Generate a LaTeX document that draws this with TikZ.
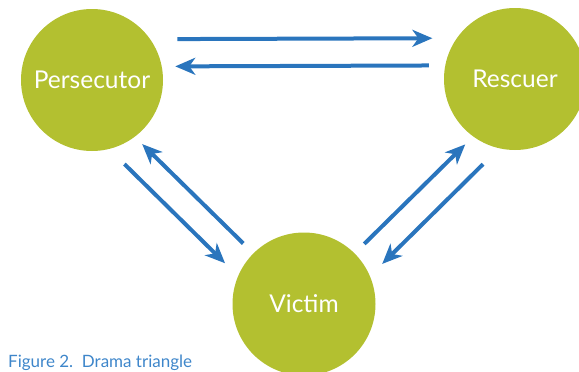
\documentclass[tikz,border=0pt]{standalone}
\usepackage{fontspec}
\setmainfont{Lato}
\usetikzlibrary{arrows.meta}
\definecolor{leafgreen}{RGB}{179,192,48}
\definecolor{arrowblue}{RGB}{42,117,189}
\definecolor{captionblue}{RGB}{62,134,202}

\begin{document}
\begin{tikzpicture}[x=1pt,y=-1pt,line join=round,
  role/.style={circle,fill=leafgreen,minimum size=142pt,inner sep=0pt,
    text=white,font=\fontsize{24.5}{28}\selectfont},
  flow/.style={arrowblue,line width=4pt,
    -{Stealth[length=20pt,width=17pt,inset=6pt]}}]
  \useasboundingbox (0,0) rectangle (579,372);
  \clip (0,0) rectangle (579,372);
  \node[role] (pers) at (92,80) {Persecutor};
  \node[role] (resc) at (515,79) {Rescuer};
  \node[role,minimum size=143pt] (vict) at (304,304) {Victim};
  % top pair
  \draw[flow,shorten <=27pt,shorten >=24.3pt] (pers.35.3) -- (resc.145.7);
  \draw[flow,shorten <=16.2pt,shorten >=13.4pt] (resc.169.45) -- (pers.11.37);
  % left pair
  \draw[flow,shorten <=21.35pt,shorten >=18.15pt] (pers.-76.3) -- (vict.157.6);
  \draw[flow,shorten <=14.05pt,shorten >=10.3pt] (vict.135.5) -- (pers.-53);
  % right pair
  \draw[flow,shorten <=13.35pt,shorten >=11.1pt] (vict.45) -- (resc.-126.4);
  \draw[flow,shorten <=22.5pt,shorten >=17.15pt] (resc.-103) -- (vict.23);
  \node[anchor=north west,inner sep=0pt,text=captionblue,
    font=\fontsize{17}{20}\selectfont] (caption) at (8,355) {Figure 2.\ \ Drama triangle};
\end{tikzpicture}
\end{document}
